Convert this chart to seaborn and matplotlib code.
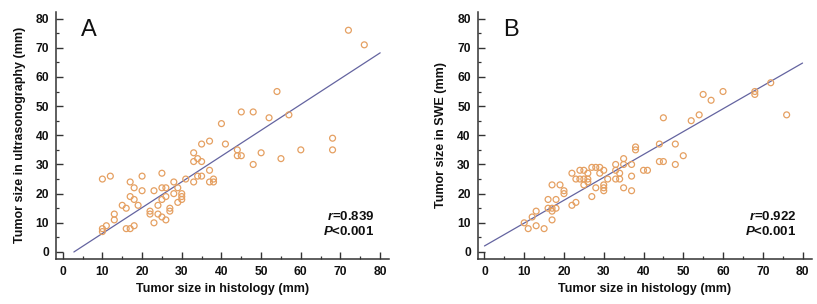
import numpy as np
import pandas as pd
import matplotlib
matplotlib.use("Agg")
import matplotlib.pyplot as plt
from matplotlib.ticker import MultipleLocator
import seaborn as sns

# Panel A: histology vs ultrasonography (mm)
histo_a = [72, 76, 54, 45, 48, 52, 57, 40, 68, 68, 60, 55, 50, 48, 44, 44, 45, 37, 35, 41,
           33, 34, 33, 35, 37, 34, 35, 33, 37, 38, 38, 31, 28, 25, 26, 25, 28, 29, 30, 30,
           30, 29, 26, 25, 24, 24, 25, 26, 27, 27, 23, 23, 22, 22, 20, 20, 19, 17, 18, 17,
           18, 15, 16, 13, 13, 12, 10, 11, 10, 10, 16, 17, 18]
us_a = [76, 71, 55, 48, 48, 46, 47, 44, 39, 35, 35, 32, 34, 30, 35, 33, 33, 38, 37, 37,
        34, 32, 31, 31, 28, 26, 26, 24, 24, 25, 24, 25, 24, 27, 22, 22, 20, 22, 20, 19,
        18, 17, 19, 18, 16, 13, 12, 11, 14, 15, 21, 10, 14, 13, 26, 21, 16, 24, 22, 19,
        18, 16, 15, 13, 11, 26, 25, 9, 8, 7, 8, 8, 9]

# Panel B: histology vs SWE (mm)
histo_b = [72, 68, 68, 76, 60, 55, 57, 54, 52, 45, 44, 48, 44, 45, 48, 50, 40, 41, 38, 38,
           37, 37, 37, 35, 35, 35, 33, 33, 34, 34, 33, 31, 30, 29, 28, 27, 29, 30, 30, 30,
           28, 27, 26, 26, 26, 25, 24, 23, 24, 25, 25, 22, 22, 23, 20, 20, 19, 17, 16, 18,
           16, 17, 18, 17, 17, 13, 12, 10, 11, 13, 15]
swe_b = [58, 55, 54, 47, 55, 54, 52, 47, 45, 46, 37, 37, 31, 31, 30, 33, 28, 28, 36, 35,
         30, 26, 21, 32, 30, 22, 30, 28, 27, 25, 25, 25, 28, 29, 29, 29, 27, 23, 22, 21,
         22, 19, 27, 25, 24, 28, 28, 25, 25, 25, 23, 27, 16, 17, 21, 20, 23, 23, 18, 18,
         15, 15, 15, 14, 11, 14, 12, 10, 8, 9, 8]

panels = [
    ("A", histo_a, us_a, "Tumor size in ultrasonography (mm)", "0.839"),
    ("B", histo_b, swe_b, "Tumor size in SWE (mm)", "0.922"),
]

sns.set_style("ticks")
plt.rcParams.update({
    "font.family": ["Liberation Sans", "DejaVu Sans"],
    "font.weight": "bold",
    "mathtext.fontset": "custom",
    "mathtext.it": "Liberation Sans:italic:bold",
    "mathtext.rm": "Liberation Sans:bold",
    "xtick.direction": "in",
    "ytick.direction": "in",
    "axes.edgecolor": "#333333",
    "axes.linewidth": 1.1,
})

dot_color = "#E5A062"
line_color = "#6464A0"

fig = plt.figure(figsize=(8.17, 3.04), dpi=100)
axes = [fig.add_axes([0.0685, 0.149, 0.408, 0.812]),
        fig.add_axes([0.5847, 0.149, 0.4088, 0.812])]

for ax, (letter, x, y, ylab, r_txt) in zip(axes, panels):
    df = pd.DataFrame({"histology": x, "measured": y})
    sns.scatterplot(data=df, x="histology", y="measured", ax=ax, marker="o",
                    s=18, facecolor="none", edgecolor=dot_color, linewidth=0.9,
                    zorder=3)

    # reduced major axis line over 0..80, clipped at y = 0
    slope = df["measured"].std() / df["histology"].std()
    icpt = df["measured"].mean() - slope * df["histology"].mean()
    x0 = max(0.0, -icpt / slope)
    xs = np.array([x0, 80.0])
    ax.plot(xs, slope * xs + icpt, color=line_color, lw=0.9, zorder=2)

    ax.set_xlim(-1.7, 82.3)
    ax.set_ylim(-2.3, 82.3)
    ax.xaxis.set_major_locator(MultipleLocator(10))
    ax.yaxis.set_major_locator(MultipleLocator(10))
    ax.xaxis.set_minor_locator(MultipleLocator(5))
    ax.yaxis.set_minor_locator(MultipleLocator(5))
    ax.tick_params(which="major", length=5, width=1, labelsize=8.7, pad=5,
                   colors="#333333", labelcolor="#111111")
    ax.tick_params(which="minor", length=2.5, width=0.9, colors="#333333")
    for lbl in ax.get_xticklabels() + ax.get_yticklabels():
        lbl.set_fontweight("bold")
    sns.despine(ax=ax)

    ax.set_xlabel("Tumor size in histology (mm)", fontsize=9, fontweight="bold",
                  labelpad=4, color="#111111")
    ax.set_ylabel(ylab, fontsize=9, fontweight="bold", labelpad=7, color="#111111")

    ax.text(6.7, 76, letter, fontsize=17, fontweight="normal", ha="center",
            va="center", color="#111111")
    ax.text(78.5, 12, r"$r$=" + r_txt, fontsize=9.5, fontweight="bold", ha="right",
            va="center", color="#111111")
    ax.text(78.5, 7, r"$P$<0.001", fontsize=9.5, fontweight="bold", ha="right",
            va="center", color="#111111")

fig.savefig("out.png", dpi=100)
